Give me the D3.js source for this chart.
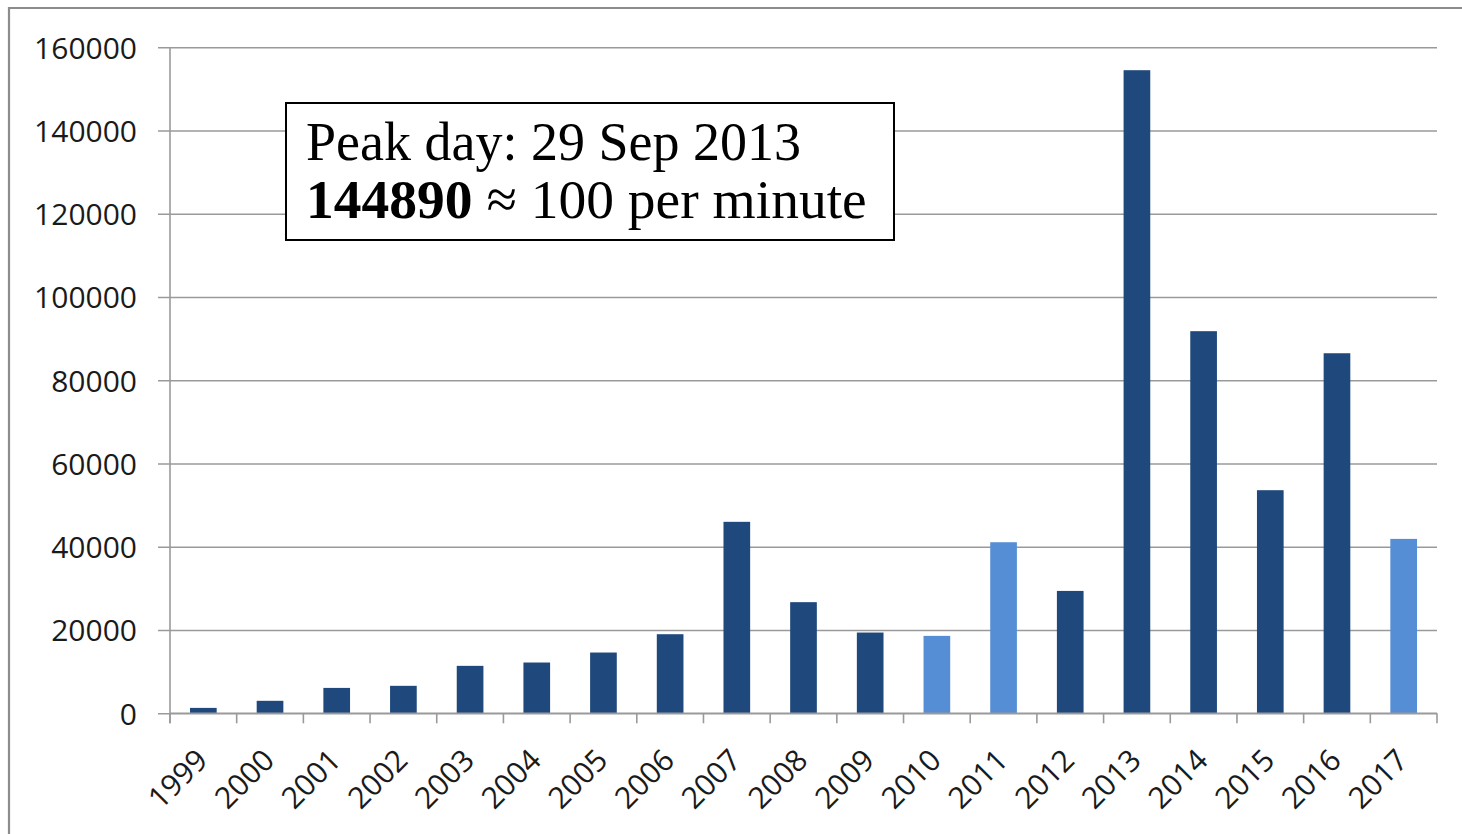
<!DOCTYPE html>
<html>
<head>
<meta charset="utf-8">
<script src="https://cdn.jsdelivr.net/npm/d3@7"></script>
<style>
  html, body { margin: 0; padding: 0; background: #fff; }
  svg { display: block; }
</style>
</head>
<body>
<svg id="chart" width="1462" height="834"></svg>
<script>
const years = ["1999","2000","2001","2002","2003","2004","2005","2006","2007","2008","2009","2010","2011","2012","2013","2014","2015","2016","2017"];
const values = [1300, 3000, 6100, 6600, 11400, 12200, 14600, 19000, 46000, 26700, 19400, 18600, 41100, 29400, 154500, 91800, 53600, 86500, 41900];
const lightYears = ["2010", "2011", "2017"];
const yTicks = [0, 20000, 40000, 60000, 80000, 100000, 120000, 140000, 160000];
const noteLine1 = "Peak day: 29 Sep 2013";
const noteBold = "144890";
const noteRest = " \u2248 100 per minute";

(function () {
const svg = d3.select("#chart");
const pLeft = 170, pRight = 1437, pTop = 47.3, pBottom = 713.3;

const x = d3.scaleBand().domain(years).range([pLeft, pRight]).paddingInner(0.6).paddingOuter(0.3);
const y = d3.scaleLinear().domain([0, 160000]).range([pBottom, pTop]);

// outer chart frame (cropped)
svg.append("path")
  .attr("d", "M9,834 V8 H1462")
  .attr("fill", "none")
  .attr("stroke", "#8c8c8c")
  .attr("stroke-width", 2.2);

// gridlines + y axis
const yAxis = d3.axisLeft(y).tickValues(yTicks).tickSize(-(pRight - pLeft)).tickPadding(0).tickFormat(d => d);
const gy = svg.append("g").attr("transform", `translate(${pLeft},0)`).call(yAxis);
gy.select(".domain").remove();
gy.selectAll(".tick line")
  .attr("x1", -12)
  .attr("stroke", "#9a9a9a")
  .attr("stroke-width", 1.6);
gy.selectAll(".tick text")
  .attr("x", -33)
  .attr("dy", "0.36em")
  .attr("fill", "#1a1a1a")
  .style("font-family", "'Open Sans', sans-serif")
  .style("font-size", "30px");

// y axis line
svg.append("line")
  .attr("x1", pLeft).attr("x2", pLeft)
  .attr("y1", pTop).attr("y2", pBottom + 10)
  .attr("stroke", "#9a9a9a").attr("stroke-width", 1.6);

// bars
svg.append("g").selectAll("rect")
  .data(years)
  .join("rect")
  .attr("x", (d) => x(d))
  .attr("width", x.bandwidth())
  .attr("y", (d, i) => y(values[i]))
  .attr("height", (d, i) => y(0) - y(values[i]))
  .attr("fill", d => lightYears.includes(d) ? "#558ed5" : "#1f497d");

// x axis
const xAxis = d3.axisBottom(x).tickSize(0).tickFormat("");
const gx = svg.append("g").attr("transform", `translate(0,${pBottom})`).call(xAxis);
gx.select(".domain").attr("stroke", "#9a9a9a").attr("stroke-width", 1.6).attr("d", `M${pLeft},0H${pRight}`);
const step = x.step();
const boundaries = d3.range(years.length + 1).map(i => pLeft + i * step);
gx.selectAll(".bt").data(boundaries).join("line")
  .attr("class", "bt")
  .attr("x1", d => d).attr("x2", d => d)
  .attr("y1", 0).attr("y2", 10)
  .attr("stroke", "#9a9a9a").attr("stroke-width", 1.6);

svg.append("g").selectAll("text")
  .data(years)
  .join("text")
  .attr("transform", d => `translate(${x(d) + x.bandwidth() / 2 + 6},762) rotate(-45)`)
  .attr("text-anchor", "end")
  .attr("fill", "#1a1a1a")
  .style("font-family", "'Open Sans', sans-serif")
  .style("font-size", "30px")
  .text(d => d);

// annotation box
const note = svg.append("g");
note.append("rect")
  .attr("x", 286).attr("y", 103).attr("width", 608).attr("height", 137)
  .attr("fill", "#fff").attr("stroke", "#000").attr("stroke-width", 2);
note.append("text")
  .attr("x", 306).attr("y", 160)
  .style("font-family", "'Liberation Serif', 'Times New Roman', serif")
  .style("font-size", "54px")
  .attr("fill", "#000")
  .text(noteLine1);
const t2 = note.append("text")
  .attr("x", 306).attr("y", 218)
  .style("font-family", "'Liberation Serif', 'Times New Roman', serif")
  .style("font-size", "55.5px")
  .attr("fill", "#000");
t2.append("tspan").attr("font-weight", "bold").text(noteBold);
t2.append("tspan").text(noteRest);
})();
</script>
</body>
</html>
